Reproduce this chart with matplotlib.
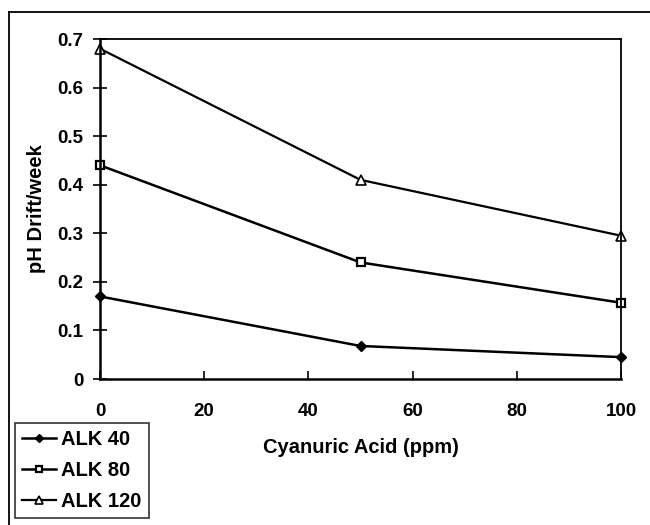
import matplotlib
matplotlib.use('Agg')
import matplotlib.pyplot as plt
from matplotlib.lines import Line2D

plt.rcParams['font.family'] = ['Liberation Sans', 'DejaVu Sans']
plt.rcParams['font.weight'] = 'bold'

# data
cya = [0, 50, 100]
alk40 = [0.17, 0.068, 0.045]
alk80 = [0.44, 0.24, 0.157]
alk120 = [0.68, 0.41, 0.295]
series_labels = ['ALK 40', 'ALK 80', 'ALK 120']
xticks = [0, 20, 40, 60, 80, 100]
yticks = [0, 0.1, 0.2, 0.3, 0.4, 0.5, 0.6, 0.7]
ytick_labels = ['0', '0.1', '0.2', '0.3', '0.4', '0.5', '0.6', '0.7']


def main():
    fig = plt.figure(figsize=(6.5, 5.25), dpi=100)
    ax = fig.add_axes([100 / 650, 1 - 379 / 525, 521 / 650, 340 / 525])

    ax.plot(cya, alk40, color='black', lw=1.8, marker='D', ms=5.5,
            mfc='black', mec='black', label=series_labels[0], clip_on=False)
    ax.plot(cya, alk80, color='black', lw=1.8, marker='s', ms=5.5,
            mfc='white', mec='black', mew=1.6, label=series_labels[1], clip_on=False)
    ax.plot(cya, alk120, color='black', lw=1.6, marker='^', ms=6.5,
            mfc='white', mec='black', mew=1.2, label=series_labels[2], clip_on=False)

    ax.set_xlim(0, 100)
    ax.set_ylim(0, 0.7)
    ax.set_xticks(xticks)
    ax.set_yticks(yticks)
    ax.set_yticklabels(ytick_labels)
    ax.tick_params(axis='x', direction='in', length=6, width=1.2, pad=17,
                   labelsize=13.5)
    ax.tick_params(axis='y', direction='inout', length=10, width=1.2, pad=7,
                   labelsize=13.5)
    for side in ['left', 'bottom']:
        ax.spines[side].set_linewidth(1.8)
    for side in ['top', 'right']:
        ax.spines[side].set_linewidth(1.3)

    ax.set_xlabel('Cyanuric Acid (ppm)', fontsize=14.5, fontweight='bold',
                  labelpad=13)
    ax.set_ylabel('pH Drift/week', fontsize=14.5, fontweight='bold',
                  labelpad=8)

    # outer frame (only top and left visible)
    fig.add_artist(Line2D([9 / 650, 9 / 650], [0, 1 - 12 / 525],
                          transform=fig.transFigure, color='black', lw=1.3))
    fig.add_artist(Line2D([9 / 650, 1], [1 - 12 / 525, 1 - 12 / 525],
                          transform=fig.transFigure, color='black', lw=1.3))

    leg = fig.legend(loc='upper left', bbox_to_anchor=(15 / 650, 1 - 423 / 525),
                     borderaxespad=0, frameon=True, fancybox=False,
                     edgecolor='black', fontsize=14.5, handlelength=1.7,
                     handletextpad=0.25, labelspacing=0.6, borderpad=0.35,
                     markerscale=0.8)
    leg.get_frame().set_linewidth(1.2)
    for t in leg.get_texts():
        t.set_fontweight('bold')

    fig.savefig('out.png', dpi=100)


if __name__ == "__main__":
    main()
